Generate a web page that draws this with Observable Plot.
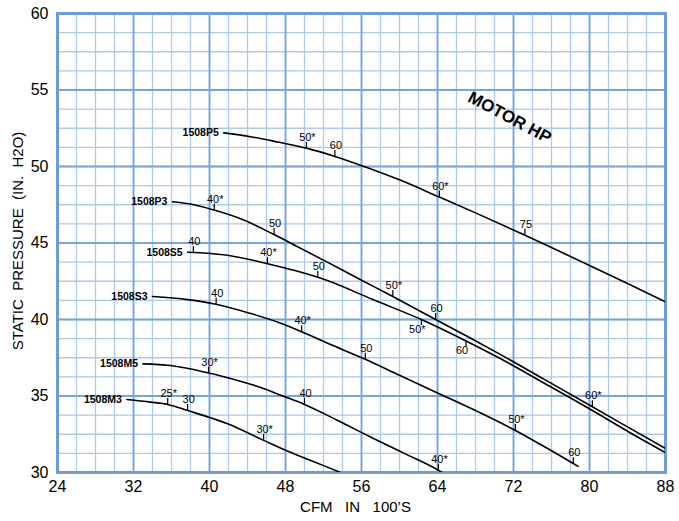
<!DOCTYPE html>
<html>
<head>
<meta charset="utf-8">
<script src="https://cdn.jsdelivr.net/npm/d3@7"></script>
<script src="https://cdn.jsdelivr.net/npm/@observablehq/plot@0.6"></script>
<style>
  html, body { margin: 0; padding: 0; background: white; }
</style>
</head>
<body>
<div id="chart"></div>
<script>
// Tick labels
const xTicks = [24, 32, 40, 48, 56, 64, 72, 80, 88];
const yTicks = [30, 35, 40, 45, 50, 55, 60];
const xMinor = d3.range(24, 88.01, 2);
const yMinor = d3.range(30, 60.01, 1.25);

// Fan curves (CFM in 100's, static pressure in. H2O)
const p5 = [[41.5,52.2],[44.3,51.95],[47.2,51.6],[50.2,51.2],[53.2,50.66],[56.2,50.02],[60.2,49.08],[64.2,48.0],[68.0,46.97],[72.7,45.65],[76.0,44.7],[80.1,43.5],[84.0,42.35],[88.0,41.15]];
const p3 = [[36.1,47.7],[38.0,47.55],[40.5,47.15],[43.6,46.5],[46.8,45.55],[49.6,44.65],[52.4,43.75],[55.9,42.6],[59.3,41.5],[63.8,40.0],[67.5,38.77],[70.6,37.72],[75.2,36.1],[80.3,34.3],[84.0,32.98],[88.0,31.57]];
const s5 = [[37.7,44.4],[41.9,44.2],[46.1,43.65],[49.0,43.2],[52.4,42.55],[57.2,41.3],[62.3,40.0],[67.0,38.6],[70.6,37.45],[75.2,35.85],[80.3,34.05],[84.0,32.7],[88.0,31.3]];
const s3 = [[34.0,41.5],[37.7,41.3],[40.7,41.0],[44.3,40.4],[47.5,39.76],[49.7,39.2],[53.0,38.3],[56.4,37.4],[60.0,36.35],[64.0,35.2],[68.0,34.05],[72.2,32.75],[75.5,31.6],[78.8,30.4]];
const m5 = [[33.0,37.1],[35.9,36.99],[39.9,36.5],[42.5,36.1],[45.4,35.55],[47.5,35.05],[50.0,34.45],[53.5,33.4],[57.0,32.3],[60.5,31.25],[64.1,30.15],[64.5,30.0]];
const m3 = [[31.3,34.77],[33.8,34.6],[35.6,34.45],[37.7,34.05],[41.9,33.18],[45.7,32.1],[48.0,31.45],[50.6,30.8],[53.8,30.0]];

const models = ["1508P5", "1508P3", "1508S5", "1508S3", "1508M5", "1508M3"];
const curves = [p5, p3, s5, s3, m5, m3];

// Motor HP markers: [model index, cfm, pressure, label, below]
const hpMarks = [
  [0, 50.2, 51.2, "50*", false], [0, 53.2, 50.66, "60", false], [0, 64.2, 48.0, "60*", false], [0, 73.2, 45.5, "75", false],
  [1, 40.5, 47.15, "40*", false], [1, 46.8, 45.55, "50", false], [1, 59.3, 41.5, "50*", false], [1, 63.8, 40.0, "60", false], [1, 80.3, 34.3, "60*", false],
  [2, 38.3, 44.38, "40", false], [2, 46.1, 43.65, "40*", false], [2, 51.4, 42.75, "50", false], [2, 62.3, 40.0, "50*", true], [2, 67.0, 38.6, "60", true],
  [3, 40.7, 41.0, "40", false], [3, 49.7, 39.2, "40*", false], [3, 56.4, 37.4, "50", false], [3, 72.2, 32.75, "50*", false], [3, 78.3, 30.58, "60", false],
  [4, 39.9, 36.5, "30*", false], [4, 50.0, 34.45, "40", false], [4, 64.1, 30.15, "40*", false],
  [5, 35.6, 34.45, "25*", false], [5, 37.7, 34.05, "30", false], [5, 45.7, 32.1, "30*", false]
];

const annotation = [{x: 71.6, y: 53.2, text: "MOTOR HP"}];

const linePts = curves.flatMap((c, i) => c.map(([x, y]) => ({model: models[i], x, y})));
const starts = curves.map((c, i) => ({model: models[i], x: c[0][0], y: c[0][1]}));
const marks = hpMarks.map(([m, x, y, label, below]) => ({model: models[m], x, y, label, below}));
const above = marks.filter(d => !d.below);
const belowM = marks.filter(d => d.below);

const minorC = "#adc9ec", majorC = "#76a4dd";

const chart = Plot.plot({
  width: 679,
  height: 521,
  marginLeft: 57,
  marginRight: 14,
  marginTop: 13,
  marginBottom: 49,
  x: {domain: [24, 88]},
  y: {domain: [30, 60]},
  style: {fontFamily: "'Liberation Sans', Arial, sans-serif", fontSize: "16px", background: "white", color: "black"},
  marks: [
    Plot.ruleX(xMinor, {stroke: minorC, strokeWidth: 1.3}),
    Plot.ruleY(yMinor, {stroke: minorC, strokeWidth: 1.3}),
    Plot.ruleX(xTicks, {stroke: majorC, strokeWidth: 1.8}),
    Plot.ruleY(yTicks, {stroke: majorC, strokeWidth: 1.8}),
    Plot.frame({stroke: "#6d9cd9", strokeWidth: 3}),
    Plot.axisX({ticks: xTicks, tickSize: 0, tickPadding: 8, fontSize: 16, label: null}),
    Plot.axisY({ticks: yTicks, tickSize: 0, tickPadding: 9, fontSize: 16, label: null}),
    Plot.line(linePts, {x: "x", y: "y", z: "model", curve: "monotone-x", stroke: "black", strokeWidth: 1.6, clip: true}),
    Plot.ruleX(above, {x: "x", y1: "y", y2: "y", insetTop: -6, stroke: "black", strokeWidth: 1.2}),
    Plot.ruleX(belowM, {x: "x", y1: "y", y2: "y", insetBottom: -6, stroke: "black", strokeWidth: 1.2}),
    Plot.text(above, {x: "x", y: "y", text: "label", dy: -11, dx: 1, fontSize: 11}),
    Plot.text(belowM, {x: "x", y: "y", text: "label", dy: 10, dx: -4, fontSize: 11}),
    Plot.text(starts, {x: "x", y: "y", text: "model", textAnchor: "end", dx: -5, fontSize: 10.5, fontWeight: "bold"}),
    Plot.text(annotation, {x: "x", y: "y", text: "text", rotate: 28, fontSize: 17, fontWeight: "bold"}),
    Plot.text(["STATIC\u00a0 PRESSURE\u00a0 (IN.\u00a0 H2O)"], {frameAnchor: "left", textAnchor: "middle", lineAnchor: "middle", rotate: -90, dx: -39, dy: -2, fontSize: 15}),
    Plot.text(["CFM\u00a0\u00a0 IN\u00a0\u00a0 100\u2019S"], {frameAnchor: "bottom", textAnchor: "middle", lineAnchor: "middle", dy: 35, dx: -6, fontSize: 15})
  ]
});

document.getElementById("chart").appendChild(chart);
</script>
</body>
</html>
